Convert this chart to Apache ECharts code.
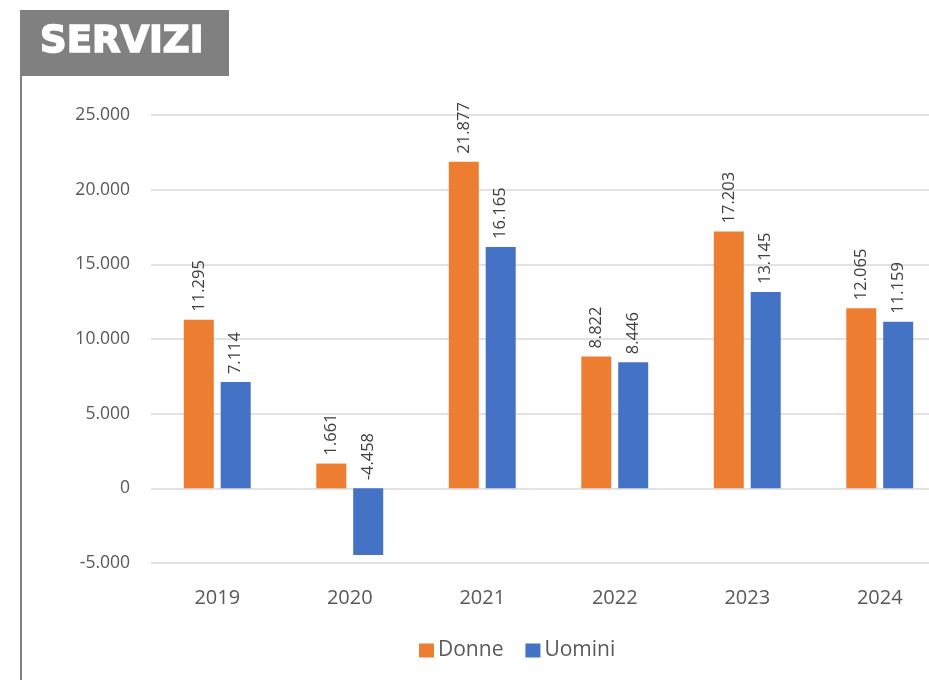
<!DOCTYPE html>
<html><head><meta charset="utf-8">
<script src="https://cdn.jsdelivr.net/npm/echarts@6/dist/echarts.min.js"></script>
<style>html,body{margin:0;padding:0;background:#fff;overflow:hidden}#c{width:946px;height:680px}</style>
</head><body><div id="c"></div>
<script>
const title = 'SERVIZI';
const categories = ['2019','2020','2021','2022','2023','2024'];
const donne = [11295, 1661, 21877, 8822, 17203, 12065];
const uomini = [7114, -4458, 16165, 8446, 13145, 11159];
const seriesNames = ['Donne','Uomini'];

function fmt(v){
  const s = Math.abs(v).toString().replace(/\B(?=(\d{3})+(?!\d))/g,'.');
  return (v<0?'-':'')+s;
}
const font = '"Open Sans", "Liberation Sans", sans-serif';
const chart = echarts.init(document.getElementById('c'));
const lbl = {show:true, position:'top', rotate:90, align:'left', verticalAlign:'middle', distance:8,
  color:'#404040', fontSize:16.5, fontFamily:font, formatter:p=>fmt(p.value)};
chart.setOption({
  animation:false,
  grid:{left:151, right:0, top:115, bottom:117, containLabel:false},
  legend:{top:635, left:414, itemWidth:15, itemHeight:14, itemGap:22,
    icon:'rect', textStyle:{color:'#595959', fontSize:21, fontFamily:font, padding:[0,0,0,-1]}, data:seriesNames},
  xAxis:{type:'category', data:categories, axisLine:{show:false, onZero:false}, axisTick:{show:false},
    axisLabel:{color:'#595959', fontSize:20, fontFamily:font, margin:25}},
  yAxis:{type:'value', min:-5000, max:25000, interval:5000,
    axisLabel:{color:'#595959', fontSize:17.5, fontFamily:font, margin:21, formatter:v=>fmt(v)},
    splitLine:{lineStyle:{color:'#d9d9d9', width:1.5}}, axisLine:{show:false}, axisTick:{show:false}},
  series:[
    {name:seriesNames[0], type:'bar', data:donne, barWidth:30, barGap:'23%', itemStyle:{color:'#ED7D31'}, label:lbl},
    {name:seriesNames[1], type:'bar', data:uomini, barWidth:30, itemStyle:{color:'#4472C4'},
      label:lbl}
  ],
  graphic:[
    {type:'rect', shape:{x:20, y:10, width:209, height:66}, style:{fill:'#808080'}},
    {type:'text', x:40, y:42, style:{text:title, fill:'#fff', stroke:'#fff', lineWidth:1.6, textVerticalAlign:'middle',
      font:'bold 37px "DejaVu Sans", "Liberation Sans", sans-serif'}},
    {type:'line', shape:{x1:21, y1:76, x2:21, y2:680}, style:{stroke:'#808080', lineWidth:2}}
  ]
});
</script></body></html>
